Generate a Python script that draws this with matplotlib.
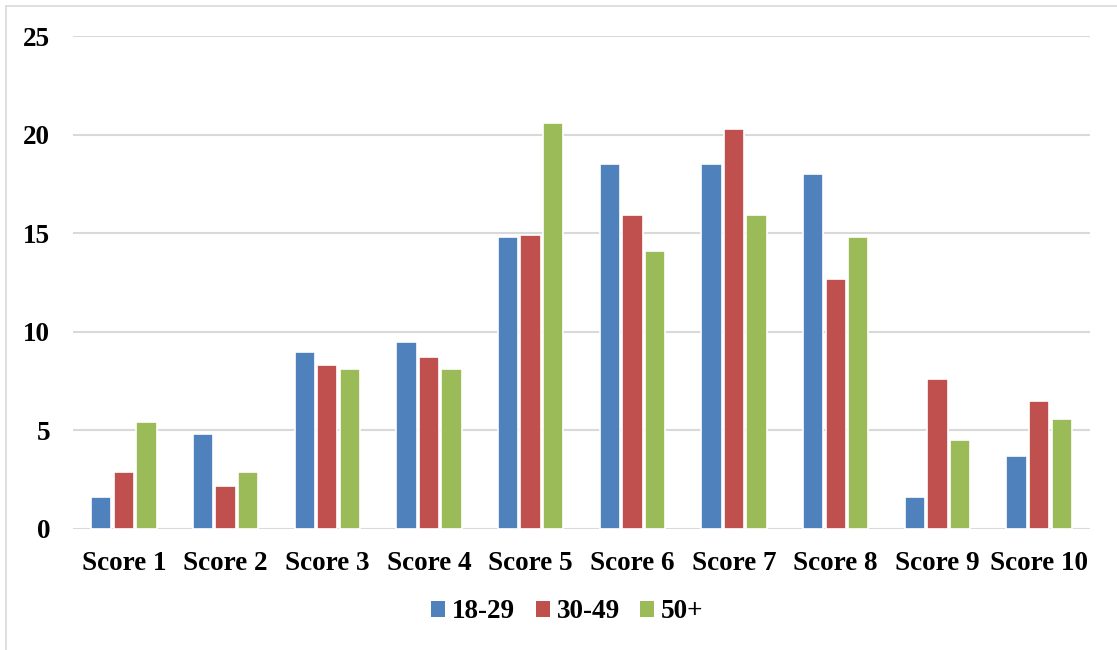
import matplotlib
matplotlib.use("Agg")
import matplotlib.pyplot as plt
from matplotlib.patches import Patch
from matplotlib.lines import Line2D
import numpy as np

categories = ["Score 1", "Score 2", "Score 3", "Score 4", "Score 5",
              "Score 6", "Score 7", "Score 8", "Score 9", "Score 10"]
age_18_29 = [1.6, 4.8, 9.0, 9.5, 14.8, 18.5, 18.5, 18.0, 1.6, 3.7]
age_30_49 = [2.9, 2.2, 8.3, 8.7, 14.9, 15.9, 20.3, 12.7, 7.6, 6.5]
age_50_plus = [5.4, 2.9, 8.1, 8.1, 20.6, 14.1, 15.9, 14.8, 4.5, 5.6]
series_names = ["18-29", "30-49", "50+"]
y_ticks = [0, 5, 10, 15, 20, 25]

colors = ["#4F81BD", "#C0504D", "#9BBB59"]
font = {"family": "Liberation Serif", "weight": "bold"}

fig = plt.figure(figsize=(11.17, 6.5), dpi=100)
ax = fig.add_axes([0.0654, 0.1862, 0.9104, 0.7584])

x = np.arange(len(categories))
offset = 0.222
width = 0.2
for i, (vals, c, name) in enumerate(zip([age_18_29, age_30_49, age_50_plus], colors, series_names)):
    ax.bar(x + (i - 1) * offset, vals, width=width, color=c, edgecolor="white",
           linewidth=1.2, label=name, zorder=3)

ax.set_xlim(-0.5, len(categories) - 0.5)
ax.set_ylim(0, 25)
ax.set_yticks(y_ticks)
ax.set_yticklabels([str(t) for t in y_ticks], fontsize=19.5, **font)
ax.set_xticks(x)
ax.set_xticklabels(categories, fontsize=19.5, **font)
ax.tick_params(axis="both", length=0)
ax.tick_params(axis="y", pad=16.5)
ax.tick_params(axis="x", pad=16)
ax.grid(axis="y", color="#D9D9D9", linewidth=1.5, zorder=0)
for s in ax.spines.values():
    s.set_visible(False)

handles = [Patch(facecolor=c, edgecolor="none", label=n) for c, n in zip(colors, series_names)]
fig.legend(handles=handles, loc="center", bbox_to_anchor=(0.508, 0.0585), ncol=3,
           frameon=False, prop={"family": "Liberation Serif", "weight": "bold", "size": 19.5},
           handlelength=0.52, handleheight=0.52, handletextpad=0.25, columnspacing=0.75)

# outer chart border (left and top edges)
fig.add_artist(Line2D([6 / 1117, 6 / 1117], [0, 1 - 6 / 650], transform=fig.transFigure,
                      color="#D9D9D9", linewidth=1.2))
fig.add_artist(Line2D([6 / 1117, 1], [1 - 6 / 650, 1 - 6 / 650], transform=fig.transFigure,
                      color="#D9D9D9", linewidth=1.2))

fig.savefig("out.png", dpi=100)
